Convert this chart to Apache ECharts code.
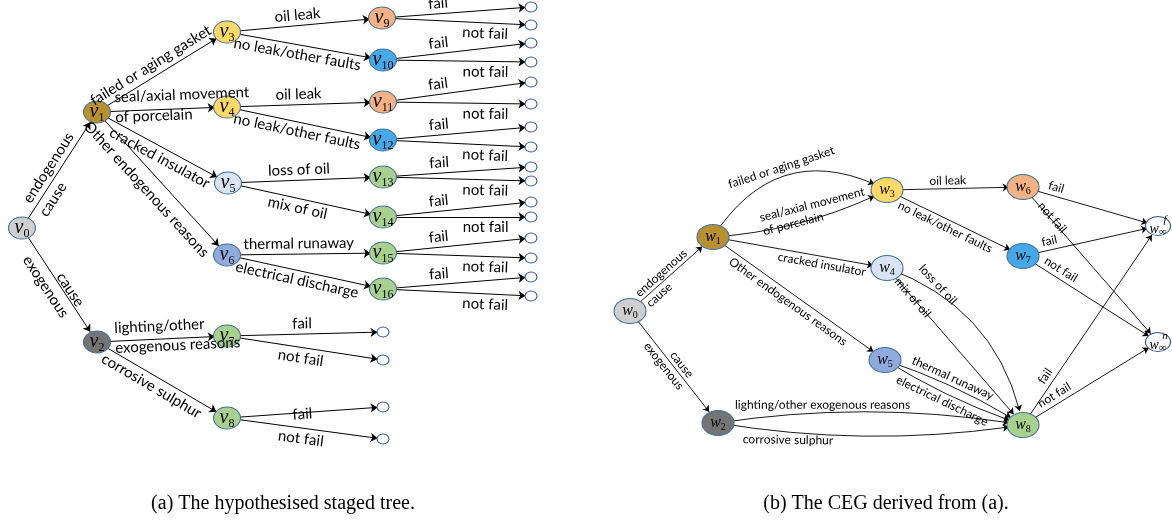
<!DOCTYPE html>
<html><head><meta charset="utf-8">
<script src="https://cdn.jsdelivr.net/npm/echarts@6/dist/echarts.min.js"></script>
<style>html,body{margin:0;padding:0;background:#fff}#c{width:1172px;height:520px}</style>
</head><body><div id="c"></div>
<script>
// ===== (a) staged tree: situations =====
const treeNames = ['v0','v1','v2','v3','v4','v5','v6','v7','v8','v9','v10','v11','v12','v13','v14','v15','v16'];
const treeX = [22, 97, 97, 227, 227, 228, 227, 227, 227, 382, 383, 383, 383, 383, 383, 383, 383];
const treeY = [228, 112, 342, 32, 107, 183, 255, 336, 418, 18, 60, 102, 140, 177, 217, 253, 289];
const treeStage = ['grey','brown','dark','yellow','yellow','pale','blue','green','green','orange','sky','orange','sky','green','green','green','green'];
// leaves
const leafParent = ['v9','v9','v10','v10','v11','v11','v12','v12','v13','v13','v14','v14','v15','v15','v16','v16','v7','v7','v8','v8'];
const leafX = [531,531,531,531,531,531,531,531,531,531,531,531,531,531,531,531,383,383,383,383];
const leafY = [7,25,43,62,82,104,127,147,167,181,202,217,238,258,277,296,332,360,407,439];
const leafText = ['fail','not fail','fail','not fail','fail','not fail','fail','not fail','fail','not fail','fail','not fail','fail','not fail','fail','not fail','fail','not fail','fail','not fail'];
// edges
const treeEdgeFrom = ['v0','v0','v1','v1','v1','v1','v2','v2','v3','v3','v4','v4','v5','v5','v6','v6'];
const treeEdgeTo   = ['v1','v2','v3','v4','v5','v6','v7','v8','v9','v10','v11','v12','v13','v14','v15','v16'];
const treeEdgeText = ['endogenous\ncause','cause\nexogenous','failed or aging gasket','seal/axial movement\nof porcelain','cracked insulator','Other endogenous reasons','lighting/other\nexogenous reasons','corrosive sulphur','oil leak','no leak/other faults','oil leak','no leak/other faults','loss of oil','mix of oil','thermal runaway','electrical discharge'];

// ===== (b) CEG =====
const cegNames = ['w0','w1','w2','w3','w4','w5','w6','w7','w8','winf_f','winf_n'];
const cegX = [630, 713, 718, 887, 887, 885, 1023, 1023, 1023, 1158, 1158];
const cegY = [311, 237, 423, 190, 268, 360, 187, 256, 425, 226, 342];
const cegStage = ['grey','brown','dark','yellow','pale','blue','orange','sky','green','sink','sink'];
const cegEdgeFrom = ['w0','w0','w1','w1','w1','w1','w3','w3','w4','w4','w5','w5','w2','w2','w6','w6','w7','w7','w8','w8'];
const cegEdgeTo   = ['w1','w2','w3','w3','w4','w5','w6','w7','w8','w8','w8','w8','w8','w8','winf_f','winf_n','winf_f','winf_n','winf_f','winf_n'];
const cegEdgeText = ['endogenous\ncause','cause\nexogenous','failed or aging gasket','seal/axial movement\nof porcelain','cracked insulator','Other endogenous reasons','oil leak','no leak/other faults','loss of oil','mix of oil','thermal runaway','electrical discharge','lighting/other exogenous reasons','corrosive sulphur','fail','not fail','fail','not fail','fail','not fail'];

const captions = ['(a) The hypothesised staged tree.', '(b) The CEG derived from (a).'];

// ===== styles (kept apart from the data) =====
const stageColors = {grey:'#CFCFCF', brown:'#B8912E', dark:'#747474', yellow:'#FFD966', pale:'#DAE3F3',
  blue:'#8FAADC', green:'#A9D18E', orange:'#F4B183', sky:'#45A8E8', sink:'#FFFFFF'};
// [position, distanceAlong, distanceAcross, lineHeight, curveness, per-line shift along]
const treeEdgePlace = [
  ['insideMiddleTop',0,-21,21,0,[2,-22]], ['insideMiddleTop',0,-22,19,0,[16,0]], ['insideMiddleTop',0,3,17,0],
  ['insideStartTop',18,-16,20,0], ['insideEndBottom',4,2,17,0], ['insideMiddleBottom',0,7,17,0],
  ['insideStartTop',18,-17,20,0], ['insideMiddleBottom',0,2,17,0],
  ['insideMiddleTop',0,2,17,0], ['insideMiddleBottom',0,1,17,0], ['insideMiddleTop',0,2,17,0], ['insideMiddleBottom',0,1,17,0],
  ['insideMiddleTop',0,2,17,0], ['insideMiddleBottom',0,1,17,0], ['insideMiddleTop',0,2,17,0], ['insideMiddleBottom',0,1,17,0]
];
const leafPlaceFail = ['insideStartTop',47,2,17,0];
const leafPlaceNot = ['insideEndBottom',17,2,17,0];
const leafPlaceFailShort = ['insideMiddleTop',0,2,17,0];
const leafPlaceNotShort = ['insideMiddleBottom',0,2,17,0];
const leafPlaceFailLow = ['insideMiddleTop',0,-10,17,0];
const cegEdgePlace = [
  ['insideMiddleTop',0,-15,15,0,[0,-16]], ['insideMiddleTop',0,-15,15,0,[10,0]], ['insideMiddleTop',0,2,14,0.45],
  ['insideStartTop',50,-14,14,-0.1], ['insideEndBottom',6,1,14,0], ['insideMiddleBottom',0,2,14,0],
  ['insideMiddleTop',0,1,14,0], ['insideMiddleBottom',0,1,14,0],
  ['insideStartTop',22,19,14,0.28], ['insideStartTop',15,-7,14,0],
  ['insideMiddleTop',0,1,14,0.06], ['insideMiddleBottom',0,1,14,-0.06],
  ['insideStartTop',17,11,14,0.08], ['insideStartBottom',25,9,14,-0.08],
  ['insideStartTop',24,2,14,0], ['insideStartTop',24,-5,14,0], ['insideStartTop',21,2,14,0],
  ['insideStartTop',21,2,14,0], ['insideStartTop',45,2,14,0], ['insideStartTop',24,2,14,0]
];
const ellipse = 'path://M0,50A50,50,0,1,1,100,50A50,50,0,1,1,0,50Z';

function edgeItem(src, dst, text, place, font) {
  const rich = {};
  let fmt = text;
  const shifts = place[5];
  if (shifts) {
    fmt = text.split('\n').map((t, k) => {
      const sh = shifts[k] || 0;
      rich['s' + k] = {fontFamily: 'Lato', fontSize: font, lineHeight: place[3], color: '#000',
        padding: sh >= 0 ? [0, 0, 0, 2 * sh] : [0, -2 * sh, 0, 0]};
      return '{s' + k + '|' + t + '}';
    }).join('\n');
  }
  return {
    source: src, target: dst,
    lineStyle: {curveness: place[4]},
    label: {show: true, position: place[0], distance: [place[1], place[2]], formatter: fmt,
      fontFamily: 'Lato', fontSize: font, lineHeight: place[3], color: '#000', rich: rich}
  };
}

// ---- tree series data ----
const treeData = [];
treeNames.forEach((n, i) => {
  treeData.push({name: n, value: [treeX[i], treeY[i]], symbol: ellipse, symbolSize: [27, 22],
    itemStyle: {color: stageColors[treeStage[i]], borderColor: '#41719C', borderWidth: 1},
    label: {show: true, formatter: '{v|v}{s|' + n.slice(1) + '}'}});
});
leafParent.forEach((p, i) => {
  treeData.push({name: 'leaf' + i, value: [leafX[i], leafY[i]], symbol: ellipse, symbolSize: [12, 10],
    itemStyle: {color: '#fff', borderColor: '#2F5597', borderWidth: 1}, label: {show: false}});
});
const treeLinks = [];
treeEdgeFrom.forEach((s, i) => treeLinks.push(edgeItem(s, treeEdgeTo[i], treeEdgeText[i], treeEdgePlace[i], 15)));
leafParent.forEach((p, i) => {
  const short = (p === 'v7' || p === 'v8');
  const isFail = leafText[i] === 'fail';
  let place = isFail ? (short ? leafPlaceFailShort : leafPlaceFail) : (short ? leafPlaceNotShort : leafPlaceNot);
  if (p === 'v8' && isFail) place = leafPlaceFailLow;
  treeLinks.push(edgeItem(p, 'leaf' + i, leafText[i], place, 15));
});

// ---- CEG series data ----
const cegData = cegNames.map((n, i) => {
  const sink = cegStage[i] === 'sink';
  return {name: n, value: [cegX[i], cegY[i]], symbol: ellipse, symbolSize: sink ? [25, 19] : [32, 25],
    itemStyle: {color: stageColors[cegStage[i]], borderColor: sink ? '#2F5597' : '#41719C', borderWidth: 1},
    label: {show: true, formatter: sink ? ('{p|' + (n.endsWith('f') ? 'f' : 'n') + '}\n{w2|w}{i|∞}') : ('{w|w}{s|' + n.slice(1) + '}')}};
});
const cegLinks = cegEdgeFrom.map((s, i) => edgeItem(s, cegEdgeTo[i], cegEdgeText[i], cegEdgePlace[i], 12));

const chart = echarts.init(document.getElementById('c'));
chart.setOption({
  animation: false,
  backgroundColor: '#fff',
  title: [
    {text: captions[0], left: 283, top: 494, textAlign: 'center', padding: 0,
     textStyle: {fontFamily: 'Liberation Serif', fontSize: 20, fontWeight: 'normal', color: '#000'}},
    {text: captions[1], left: 886, top: 494, textAlign: 'center', padding: 0,
     textStyle: {fontFamily: 'Liberation Serif', fontSize: 20, fontWeight: 'normal', color: '#000'}}
  ],
  grid: {left: 0, right: 0, top: 0, bottom: 0},
  xAxis: {type: 'value', min: 0, max: 1172, show: false},
  yAxis: {type: 'value', min: 0, max: 520, inverse: true, show: false},
  series: [
    {
      type: 'graph', coordinateSystem: 'cartesian2d', silent: true,
      edgeSymbol: ['none', 'arrow'], edgeSymbolSize: [4, 7],
      lineStyle: {color: '#000', width: 1, opacity: 1},
      label: {color: '#000', rich: {
        v: {fontFamily: 'Liberation Serif', fontStyle: 'italic', fontSize: 20, color: '#000'},
        s: {fontFamily: 'Liberation Serif', fontSize: 12, color: '#000', padding: [12, 0, 0, 0]}
      }},
      emphasis: {disabled: true},
      data: treeData, links: treeLinks
    },
    {
      type: 'graph', coordinateSystem: 'cartesian2d', silent: true,
      edgeSymbol: ['none', 'arrow'], edgeSymbolSize: [4, 6],
      lineStyle: {color: '#000', width: 0.9, opacity: 1},
      label: {color: '#000', rich: {
        w: {fontFamily: 'Liberation Serif', fontStyle: 'italic', fontSize: 16, color: '#000'},
        s: {fontFamily: 'Liberation Serif', fontSize: 10, color: '#000', padding: [9, 0, 0, 0]},
        w2: {fontFamily: 'Liberation Serif', fontStyle: 'italic', fontSize: 14, color: '#000', lineHeight: 12},
        i: {fontFamily: 'Liberation Serif', fontSize: 11, color: '#000', padding: [6, 0, 0, 0], lineHeight: 12},
        p: {fontFamily: 'Liberation Serif', fontStyle: 'italic', fontSize: 11, color: '#000', padding: [0, 0, 0, 14], lineHeight: 7}
      }},
      emphasis: {disabled: true},
      data: cegData, links: cegLinks
    }
  ]
});
</script>
</body></html>
